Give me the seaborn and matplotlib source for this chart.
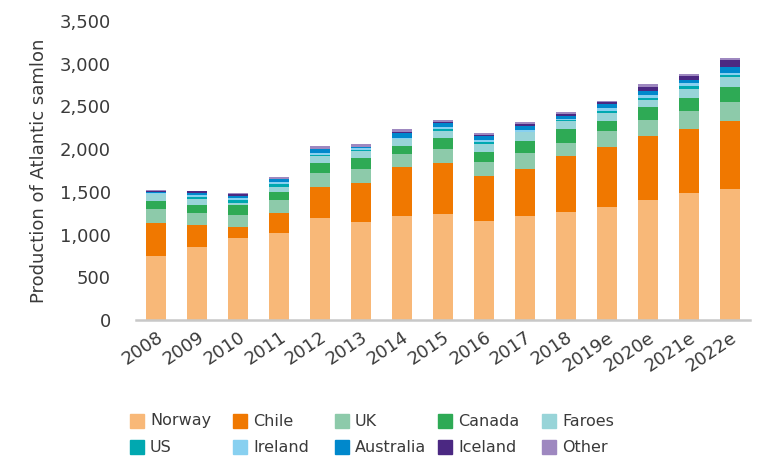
import numpy as np
import pandas as pd
import matplotlib
matplotlib.use("Agg")
import matplotlib.pyplot as plt
import matplotlib.patches as mpatches
import seaborn as sns

# ---------------------------------------------------------------------------
# Data (thousand tonnes)
# ---------------------------------------------------------------------------
years = ["2008", "2009", "2010", "2011", "2012", "2013", "2014", "2015",
         "2016", "2017", "2018", "2019e", "2020e", "2021e", "2022e"]

countries = ["Norway", "Chile", "UK", "Canada", "Faroes",
             "US", "Ireland", "Australia", "Iceland", "Other"]

norway = [749, 858, 964, 1015, 1191, 1144, 1221, 1241, 1163, 1221, 1268, 1327, 1405, 1484, 1530]
chile = [383, 254, 129, 234, 363, 464, 565, 601, 523, 543, 652, 696, 753, 753, 803]
uk = [164, 137, 137, 156, 164, 160, 157, 157, 160, 187, 156, 191, 184, 211, 215]
canada = [100, 97, 117, 90, 124, 125, 97, 129, 124, 148, 157, 121, 149, 149, 176]
faroes = [75, 67, 27, 66, 78, 89, 78, 85, 87, 98, 101, 87, 85, 109, 117]
us = [5, 23, 31, 31, 10, 5, 5, 23, 23, 5, 5, 27, 27, 35, 27]
ireland = [12, 27, 23, 27, 23, 23, 12, 27, 27, 19, 15, 32, 32, 32, 20]
australia = [15, 27, 23, 28, 45, 16, 58, 47, 50, 47, 39, 47, 47, 39, 77]
iceland = [3, 20, 25, 5, 5, 5, 5, 5, 5, 28, 20, 19, 50, 50, 78]
other = [20, 5, 6, 19, 30, 30, 35, 23, 28, 23, 19, 23, 28, 20, 27]

series = [norway, chile, uk, canada, faroes, us, ireland, australia, iceland, other]

colors = ["#F8B878", "#F07800", "#8DCAAA", "#2EAA55", "#98D4D8",
          "#00A8B0", "#88D0F0", "#0088CC", "#4B2882", "#9E88C0"]
palette = dict(zip(countries, colors))

# long table for seaborn
df = pd.DataFrame({
    "pos": np.tile(np.arange(len(years)), len(countries)),
    "country": np.repeat(countries, len(years)),
    "value": np.concatenate(series),
})

# ---------------------------------------------------------------------------
# Plot
# ---------------------------------------------------------------------------
sns.set_theme(style="white")
plt.rcParams["font.family"] = ["DejaVu Sans"]
text_color = "#3A3A3A"

fig = plt.figure(figsize=(7.58, 4.59), dpi=100)
ax = fig.add_axes([0.179, 0.303, 0.811, 0.651])

# histplot stacks the last hue level at the bottom, so reverse the order
sns.histplot(
    data=df, x="pos", weights="value", hue="country",
    hue_order=countries[::-1], palette=palette,
    multiple="stack", discrete=True, shrink=0.49,
    alpha=1, linewidth=0, legend=False, ax=ax,
)

ax.set_ylim(0, 3500)
ax.set_xlim(-0.5, len(years) - 0.5)
ax.set_yticks(np.arange(0, 3501, 500))
ax.set_yticklabels([f"{v:,}" for v in range(0, 3501, 500)], fontsize=13, color=text_color)
ax.set_xticks(np.arange(len(years)))
ax.set_xticklabels(years, rotation=34, ha="right", rotation_mode="anchor",
                   fontsize=13, color=text_color)
ax.tick_params(axis="both", length=0)
ax.tick_params(axis="y", pad=18)
ax.tick_params(axis="x", pad=6)

ax.set_xlabel("")
ax.set_ylabel("Production of Atlantic samlon", fontsize=13, color=text_color, labelpad=8)

for side in ["top", "right", "left"]:
    ax.spines[side].set_visible(False)
ax.spines["bottom"].set_color("#C8C8C8")
ax.spines["bottom"].set_linewidth(1.8)

# legend: 2 rows x 5 evenly spaced columns, placed by hand
W, H = 758, 459
col_x = [130, 233, 335, 438, 542]
row_y = [421, 447]
box = 14
for i, name in enumerate(countries):
    r, c = divmod(i, 5)
    x0, yc = col_x[c], row_y[r]
    fig.patches.append(mpatches.Rectangle(
        (x0 / W, 1 - (yc + box / 2) / H), box / W, box / H,
        transform=fig.transFigure, color=palette[name]))
    fig.text((x0 + box + 6) / W, 1 - yc / H, name, ha="left", va="center",
             fontsize=11.5, color=text_color)

fig.savefig("out.png", dpi=100)
